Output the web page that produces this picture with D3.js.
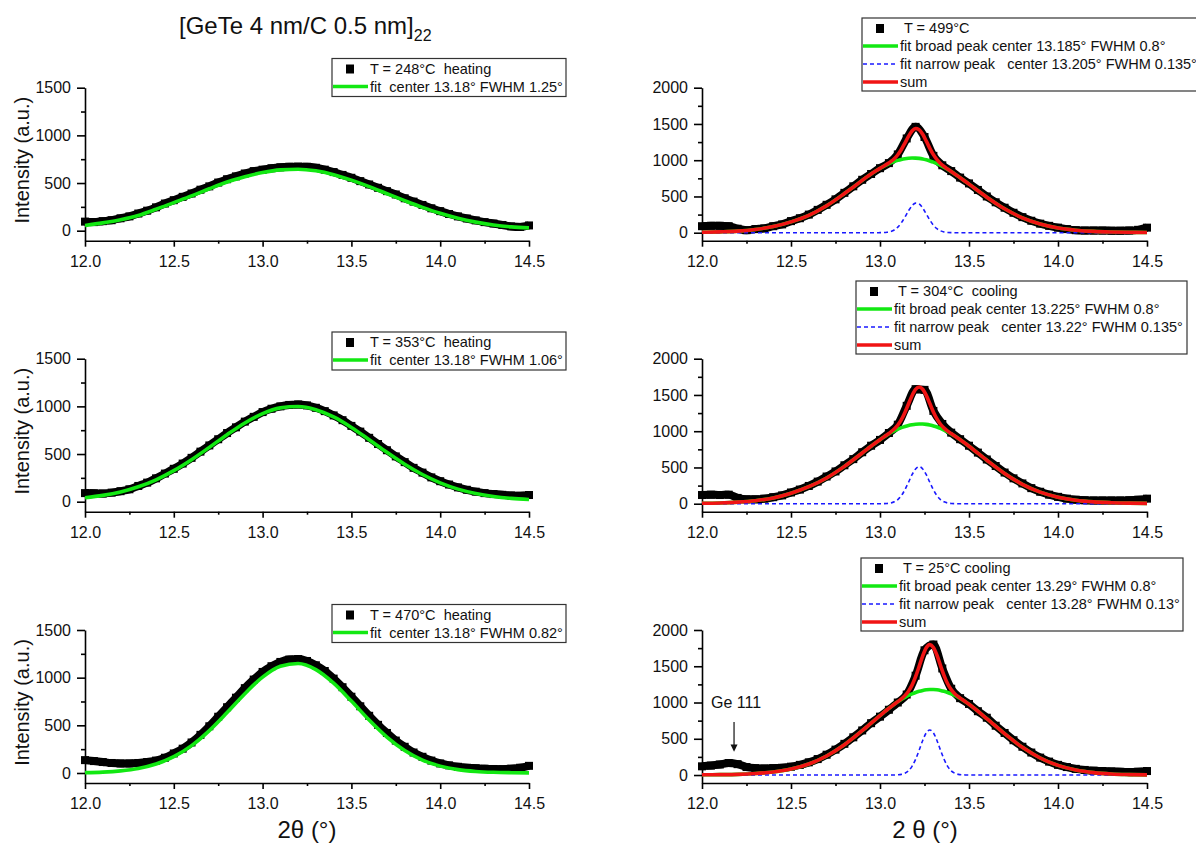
<!DOCTYPE html>
<html lang="en">
<head>
<meta charset="UTF-8">
<title>GeTe/C multilayer XRD fits</title>
<script src="https://cdn.jsdelivr.net/npm/d3@7"></script>
<style>
  body { margin: 0; background: #fff; }
  text { font-family: "Liberation Sans", Arial, sans-serif; }
</style>
</head>
<body>
<script>
// measured 2theta grid (0.05 deg) and counts
const dataX = [12.00,12.05,12.10,12.15,12.20,12.25,12.30,12.35,12.40,12.45,
  12.50,12.55,12.60,12.65,12.70,12.75,12.80,12.85,12.90,12.95,
  13.00,13.05,13.10,13.15,13.20,13.25,13.30,13.35,13.40,13.45,
  13.50,13.55,13.60,13.65,13.70,13.75,13.80,13.85,13.90,13.95,
  14.00,14.05,14.10,14.15,14.20,14.25,14.30,14.35,14.40,14.45,14.50];

const counts248 = [95,90,100,110,130,150,180,210,245,285,
  320,355,390,430,465,505,540,570,600,625,
  640,655,665,670,672,670,660,640,615,585,
  555,520,485,450,415,380,340,305,270,235,
  205,175,150,128,108,90,75,60,45,40,55];
const counts353 = [90,88,85,95,110,130,165,200,245,295,
  345,400,460,525,590,655,720,780,840,890,
  940,975,1000,1015,1020,1010,985,950,905,855,
  795,735,670,605,540,475,415,355,305,255,
  215,180,150,125,105,90,80,72,65,62,70];
const counts470 = [135,125,115,105,100,100,105,115,130,160,
  205,255,320,400,490,590,690,790,890,980,
  1060,1120,1165,1190,1195,1175,1130,1070,990,900,
  800,700,600,505,420,340,275,215,170,130,
  100,80,65,55,50,45,42,40,45,55,75];
const counts499 = [90,95,95,90,55,35,50,60,90,115,
  160,200,250,315,385,460,550,640,730,810,
  890,960,1080,1300,1460,1320,1060,930,850,760,
  680,590,500,420,345,275,215,165,125,95,
  70,50,35,30,30,30,28,28,30,40,70];
const counts304 = [120,125,120,125,80,60,60,70,90,115,
  155,195,245,305,375,445,530,615,710,800,
  880,975,1090,1350,1580,1570,1280,1100,980,890,
  800,705,610,520,430,350,280,215,165,125,
  95,70,55,48,45,45,45,45,48,55,70];
const counts25 = [120,130,145,165,150,110,95,90,95,100,
  115,140,175,220,280,350,430,520,615,715,
  805,900,1000,1110,1370,1720,1800,1470,1190,1060,
  980,880,790,680,580,480,390,310,240,185,
  140,110,85,70,60,55,50,45,40,45,55];

// single-peak fits (heating)
const fitX = [12.0,12.1,12.2,12.3,12.4,12.5,12.6,12.7,12.8,12.9,13.0,13.1,13.2,
  13.3,13.4,13.5,13.6,13.7,13.8,13.9,14.0,14.1,14.2,14.3,14.4,14.5];
const fit248 = [55,82,115,160,225,295,365,440,510,565,610,638,645,
  628,588,530,462,388,315,245,182,130,90,60,40,30];
const fit353 = [42,66,102,156,230,326,441,570,703,826,924,984,999,
  965,889,779,650,518,393,285,198,132,86,55,35,23];
const fit470 = [4,9,22,47,94,171,287,445,634,832,1006,1120,1148,
  1084,942,754,556,377,236,136,72,35,16,7,3,1];

// two-peak fits (broad + narrow), finer grid around the narrow peak
const gridR = [12.0,12.1,12.2,12.3,12.4,12.5,12.6,12.7,12.8,
  12.90,12.92,12.94,12.96,12.98,13.00,13.02,13.04,13.06,13.08,
  13.10,13.12,13.14,13.16,13.18,13.20,13.22,13.24,13.26,13.28,
  13.30,13.32,13.34,13.36,13.38,13.40,13.42,13.44,13.46,13.48,13.50,
  13.6,13.7,13.8,13.9,14.0,14.1,14.2,14.3,14.4,14.5];

const broad499 = [6,12,22,45,85,150,240,372,540,
  722,760,794,827,859,886,915,940,963,982,
  998,1011,1021,1027,1030,1029,1025,1017,1005,990,
  973,952,928,902,874,843,811,777,742,706,670,
  490,330,205,120,65,35,18,10,6,4];
const narrow499 = [0,0,0,0,0,0,0,0,0,
  0,0,0,0,0,1,2,7,17,38,
  77,137,216,301,373,408,396,340,259,174,
  104,55,26,11,4,1,0,0,0,0,0,
  0,0,0,0,0,0,0,0,0,0];

const broad304 = [6,11,22,42,80,145,235,355,515,
  700,738,776,812,848,883,917,948,978,1004,
  1028,1049,1066,1080,1090,1097,1100,1099,1094,1086,
  1073,1058,1039,1016,991,963,933,900,866,830,793,
  600,418,268,160,90,48,25,14,8,5];
const narrow304 = [0,0,0,0,0,0,0,0,0,
  0,0,0,0,0,0,1,4,10,26,
  57,111,193,295,400,480,510,480,400,295,
  193,111,57,26,10,4,1,0,0,0,0,
  0,0,0,0,0,0,0,0,0,0];

const broad25 = [3,5,9,20,42,82,152,262,417,
  611,652,694,736,778,820,860,900,938,975,
  1009,1041,1070,1097,1120,1139,1155,1167,1175,1179,
  1179,1175,1167,1155,1139,1120,1097,1070,1041,1009,975,
  778,570,382,235,133,69,33,14,6,2];
const narrow25 = [0,0,0,0,0,0,0,0,0,
  0,0,0,0,0,0,0,0,0,1,
  3,9,25,58,120,217,343,477,581,620,
  581,477,343,217,120,58,25,9,3,1,0,
  0,0,0,0,0,0,0,0,0,0];

const xTicks = [12.0, 12.5, 13.0, 13.5, 14.0, 14.5];
const xMinor = [12.25, 12.75, 13.25, 13.75, 14.25];
const yTicksLeft = [0, 500, 1000, 1500];
const yTicksRight = [0, 500, 1000, 1500, 2000];

const legendLeft = [
  ["T = 248°C  heating", "fit  center 13.18° FWHM 1.25°"],
  ["T = 353°C  heating", "fit  center 13.18° FWHM 1.06°"],
  ["T = 470°C  heating", "fit  center 13.18° FWHM 0.82°"]
];
const legendRight = [
  ["T = 499°C", "fit broad peak center 13.185° FWHM 0.8°", "fit narrow peak   center 13.205° FWHM 0.135°", "sum"],
  ["T = 304°C  cooling", "fit broad peak center 13.225° FWHM 0.8°", "fit narrow peak   center 13.22° FWHM 0.135°", "sum"],
  ["T = 25°C cooling", "fit broad peak center 13.29° FWHM 0.8°", "fit narrow peak   center 13.28° FWHM 0.13°", "sum"]
];

const GREEN = "#12e812", RED = "#f01414", BLUE = "#1a1aff";

const svg = d3.select("body").append("svg")
  .attr("width", 1196).attr("height", 844);

const rowTop = [87.7, 358.7, 630];
const plotH = 153;

function pairs(xs, ys) { return xs.map((x, i) => [x, ys[i]]); }

function drawPanel(p) {
  const x = d3.scaleLinear().domain([12, 14.5]).range(p.xr);
  const y = d3.scaleLinear().domain([p.ylo, p.ymax]).range([p.top + plotH, p.top]);
  const g = svg.append("g");

  // axes
  const ax = g.append("g").attr("transform", `translate(0,${p.top + plotH})`);
  ax.call(d3.axisBottom(x).tickValues(xTicks).tickSize(6).tickSizeOuter(0)
    .tickPadding(8.6).tickFormat(d3.format(".1f")));
  ax.append("g").call(d3.axisBottom(x).tickValues(xMinor).tickSize(3).tickFormat(""))
    .select(".domain").remove();
  const ay = g.append("g").attr("transform", `translate(${p.xr[0]},0)`);
  ay.call(d3.axisLeft(y).tickValues(p.yMajor).tickSize(8).tickSizeOuter(0)
    .tickPadding(6).tickFormat(d3.format("d")));
  ay.append("g").call(d3.axisLeft(y).tickValues(p.yMajor.slice(0, -1).map(v => v + 250))
    .tickSize(4).tickFormat("")).select(".domain").remove();
  g.selectAll(".domain, .tick line").attr("stroke", "#000").attr("stroke-width", 1.6);
  g.selectAll(".tick text").attr("font-size", 16).attr("fill", "#111")
    .attr("font-family", "'Liberation Sans', Arial, sans-serif");

  const line = d3.line().x(d => x(d[0])).y(d => y(d[1])).curve(d3.curveMonotoneX);

  // measured points: dense square markers
  const pts = pairs(dataX, p.counts);
  g.append("path").attr("d", line(pts)).attr("fill", "none")
    .attr("stroke", "#000").attr("stroke-width", 8).attr("stroke-linejoin", "round");
  g.selectAll(".pt").data(pts).join("rect")
    .attr("x", d => x(d[0]) - 4).attr("y", d => y(d[1]) - 4)
    .attr("width", 8).attr("height", 8).attr("fill", "#000");

  p.curves.forEach(c => {
    g.append("path").attr("d", line(pairs(c.x, c.y))).attr("fill", "none")
      .attr("stroke", c.color).attr("stroke-width", c.width)
      .attr("stroke-dasharray", c.dash || null);
  });

  // legend box
  const L = p.legend;
  const lg = svg.append("g").attr("transform", `translate(${L.left},${L.top})`);
  lg.append("rect").attr("width", L.width).attr("height", L.height)
    .attr("fill", "#fff").attr("stroke", "#333").attr("stroke-width", 1.2);
  L.items.forEach((it, i) => {
    const ry = 10 + i * 18;
    if (it.type === "square") {
      lg.append("rect").attr("x", 14).attr("y", ry - 4).attr("width", 8).attr("height", 9).attr("fill", "#000");
    } else {
      lg.append("line").attr("x1", 1).attr("x2", 36).attr("y1", ry).attr("y2", ry)
        .attr("stroke", it.color).attr("stroke-width", it.width)
        .attr("stroke-dasharray", it.dash || null);
    }
    lg.append("text").attr("x", it.type === "square" ? L.textX : 38).attr("y", ry + 5)
      .attr("font-size", 14.5).attr("fill", "#111").style("white-space", "pre").text(it.text);
  });
  return { x, y };
}

// left column: single Gaussian fits
const leftFits = [fit248, fit353, fit470];
const leftCounts = [counts248, counts353, counts470];
const leftLegendTop = [58.5, 332, 604.5];
leftFits.forEach((f, i) => {
  drawPanel({
    xr: [85, 529], top: rowTop[i], ylo: -105, ymax: 1500, yMajor: yTicksLeft,
    counts: leftCounts[i],
    curves: [{ x: fitX, y: f, color: GREEN, width: 3.6 }],
    legend: {
      left: 332, top: leftLegendTop[i], width: 234, height: 38, textX: 38,
      items: [
        { type: "square", text: legendLeft[i][0] },
        { type: "line", color: GREEN, width: 3.6, text: legendLeft[i][1] }
      ]
    }
  });
  svg.append("text")
    .attr("transform", `translate(29,${rowTop[i] + plotH / 2 - 4}) rotate(-90)`)
    .attr("text-anchor", "middle").attr("font-size", 20).attr("fill", "#111")
    .text("Intensity (a.u.)");
});

// right column: broad + narrow peak fits and their sum
const rightBroad = [broad499, broad304, broad25];
const rightNarrow = [narrow499, narrow304, narrow25];
const rightCounts = [counts499, counts304, counts25];
const rightLegend = [[862, 18, 340], [856, 281, 331], [861, 558, 322]];
let lastScales;
rightBroad.forEach((b, i) => {
  const sum = b.map((v, k) => v + rightNarrow[i][k]);
  lastScales = drawPanel({
    xr: [702, 1147], top: rowTop[i], ylo: -110, ymax: 2000, yMajor: yTicksRight,
    counts: rightCounts[i],
    curves: [
      { x: gridR, y: b, color: GREEN, width: 3.6 },
      { x: gridR, y: rightNarrow[i], color: BLUE, width: 1.6, dash: "4,3" },
      { x: gridR, y: sum, color: RED, width: 3.6 }
    ],
    legend: {
      left: rightLegend[i][0], top: rightLegend[i][1], width: rightLegend[i][2], height: 73, textX: 42,
      items: [
        { type: "square", text: legendRight[i][0] },
        { type: "line", color: GREEN, width: 3.6, text: legendRight[i][1] },
        { type: "line", color: BLUE, width: 1.6, dash: "4,3", text: legendRight[i][2] },
        { type: "line", color: RED, width: 3.6, text: legendRight[i][3] }
      ]
    }
  });
});

// Ge 111 reflection marker in the 25 C pattern
const geX = 12.18;
const ax25 = lastScales.x, ay25 = lastScales.y;
svg.append("text").attr("x", ax25(geX) - 23).attr("y", ay25(920)).attr("font-size", 16)
  .attr("fill", "#111").text("Ge 111");
svg.append("line").attr("x1", ax25(geX)).attr("x2", ax25(geX))
  .attr("y1", ay25(730)).attr("y2", ay25(360)).attr("stroke", "#111").attr("stroke-width", 1.2);
svg.append("path")
  .attr("d", `M${ax25(geX) - 3.5},${ay25(420)} L${ax25(geX) + 3.5},${ay25(420)} L${ax25(geX)},${ay25(320)} Z`)
  .attr("fill", "#111");

// title and x-axis titles
const title = svg.append("text").attr("x", 179).attr("y", 34).attr("font-size", 24).attr("fill", "#111");
title.append("tspan").text("[GeTe 4 nm/C 0.5 nm]");
title.append("tspan").attr("dy", 7).attr("font-size", 16).text("22");

svg.append("text").attr("x", 307).attr("y", 838).attr("text-anchor", "middle")
  .attr("font-family", "'Liberation Serif', 'Times New Roman', serif").attr("font-size", 24)
  .attr("fill", "#111").text("2θ (°)");
svg.append("text").attr("x", 925).attr("y", 838).attr("text-anchor", "middle")
  .attr("font-family", "'Liberation Serif', 'Times New Roman', serif").attr("font-size", 24)
  .attr("fill", "#111").text("2 θ (°)");
</script>
</body>
</html>
